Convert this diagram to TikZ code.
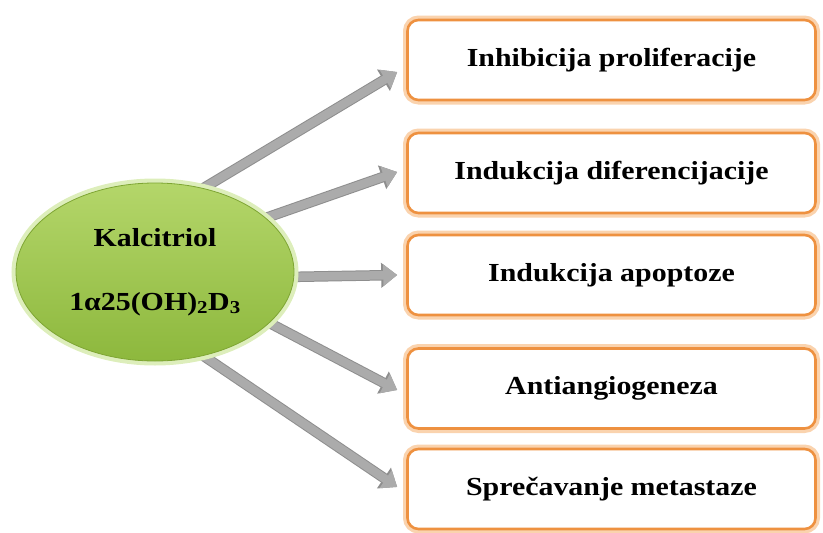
\documentclass[tikz,border=0pt]{standalone}
\usepackage{fontspec}
\setmainfont{Liberation Serif}[FakeStretch=1.15]
\usetikzlibrary{shapes.geometric,arrows.meta,calc,backgrounds}
\definecolor{boxorange}{HTML}{EE9140}
\definecolor{boxglow}{HTML}{FAD3AE}
\definecolor{greentop}{HTML}{B4D66A}
\definecolor{greenbot}{HTML}{8DB83D}
\definecolor{greenedge}{HTML}{7EA533}
\definecolor{greenglow}{HTML}{DDEEBB}
\definecolor{arrgray}{HTML}{ABABAB}
\definecolor{arredge}{HTML}{8E8E8E}
\tikzset{
  effbox/.style={rectangle, rounded corners=11pt, draw=boxorange, line width=2.6pt,
    fill=white, minimum width=408pt, minimum height=80pt,
    preaction={draw=boxglow, line width=9pt},
    font=\bfseries\fontsize{26}{30}\selectfont, text=black},
  kellipse/.style={ellipse, draw=greenedge, line width=0.8pt,
    top color=greentop, bottom color=greenbot, minimum width=278pt, minimum height=178pt,
    inner sep=0pt, preaction={draw=greenglow, line width=9pt},
    align=center, font=\bfseries\fontsize{26}{30}\selectfont, text=black},
  arr/.style={draw=arrgray, line width=8.5pt, -{Triangle[width=21pt,length=14pt]},
    preaction={draw=arredge, line width=10.5pt, -{Triangle[width=24pt,length=16pt]}}}
}
\begin{document}
\begin{tikzpicture}[x=1pt,y=-1pt]
\useasboundingbox (0,0) rectangle (823,533);
\node[kellipse] (k) at (155,272) {Kalcitriol\\[34pt]1α25(OH)\textsubscript{2}D\textsubscript{3}};
\node[effbox] (b1) at (611.5,60) {Inhibicija proliferacije};
\node[effbox] (b2) at (611.5,173) {Indukcija diferencijacije};
\node[effbox] (b3) at (611.5,275) {Indukcija apoptoze};
\node[effbox] (b4) at (611.5,388.5) {Antiangiogeneza};
\node[effbox] (b5) at (611.5,489) {Sprečavanje metastaze};
\begin{pgfonlayer}{background}
\draw[arr] (k.60) -- ($(b1.west)+(-9,12)$);
\draw[arr] (k.26) -- ($(b2.west)+(-9,-1)$);
\draw[arr] (k.-2) -- ($(b3.west)+(-9,0)$);
\draw[arr] (k.-24) -- ($(b4.west)+(-9,1.5)$);
\draw[arr] (k.-60) -- ($(b5.west)+(-9,-2)$);
\end{pgfonlayer}
\end{tikzpicture}
\end{document}
